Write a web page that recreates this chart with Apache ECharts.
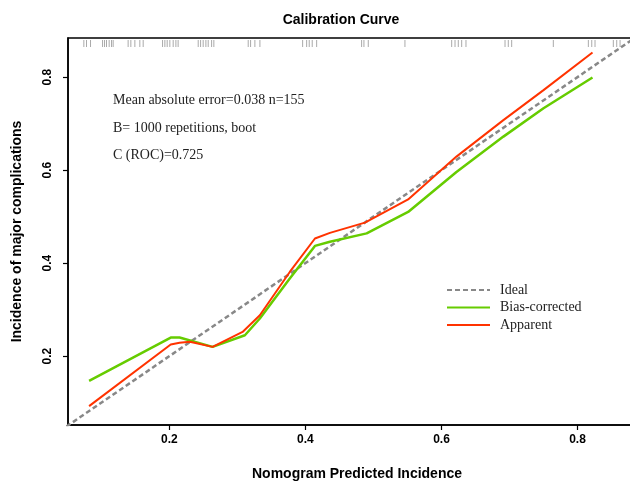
<!DOCTYPE html>
<html>
  <head>
    <meta charset="utf-8">
    <title>Calibration Curve</title>
    <script src="https://cdn.jsdelivr.net/npm/echarts@6/dist/echarts.min.js"></script>
  </head>
  <body style="margin:0">
      <div id="main" style="width:630px; height:481px;"></div>
      <script>
          // data
          var tickValues = [0.2, 0.4, 0.6, 0.8]
          var ideal = [[0, 0], [1, 1]]
          var biasCorrected = [
              [0.082, 0.147], [0.202, 0.240], [0.215, 0.240], [0.2635, 0.220],
              [0.311, 0.245], [0.333, 0.281], [0.377, 0.367], [0.414, 0.437],
              [0.436, 0.446], [0.490, 0.464], [0.551, 0.510], [0.622, 0.596],
              [0.691, 0.672], [0.750, 0.733], [0.822, 0.799]
          ]
          var apparent = [
              [0.082, 0.0925], [0.202, 0.225], [0.215, 0.229], [0.230, 0.231],
              [0.2635, 0.220], [0.3076, 0.252], [0.333, 0.288], [0.377, 0.381],
              [0.414, 0.453], [0.436, 0.465], [0.4875, 0.487], [0.551, 0.537],
              [0.622, 0.629], [0.691, 0.7075], [0.750, 0.772], [0.822, 0.853]
          ]
          var rug = [
              0.0743, 0.0782, 0.0841, 0.1018, 0.1047, 0.1076, 0.1115, 0.115, 0.1174,
              0.1394, 0.1434, 0.1493, 0.1566, 0.1615, 0.19, 0.1934, 0.1968, 0.2007,
              0.2056, 0.2096, 0.2129, 0.2424, 0.2459, 0.2497, 0.2537, 0.2571, 0.2621,
              0.2654, 0.3159, 0.3194, 0.3257, 0.3331, 0.3959, 0.4018, 0.4056, 0.41,
              0.4165, 0.4826, 0.486, 0.4924, 0.5463, 0.615, 0.6199, 0.6247, 0.6297,
              0.636, 0.6934, 0.6982, 0.7032, 0.7644, 0.8159, 0.8209, 0.8257, 0.8526,
              0.8576, 0.8625
          ]
          var notes = ['Mean absolute error=0.038 n=155', 'B= 1000 repetitions, boot', 'C (ROC)=0.725']

          var xMin = 0.051, xMax = 0.883
          var yMin = 0.052, yMax = 0.884

          var myChart = echarts.init(document.querySelector('#main'))

          var serif = '"Liberation Serif", "Times New Roman", serif'
          var sans = '"Liberation Sans", Arial, sans-serif'

          var axisCommon = {
              type: 'value',
              splitLine: {show: false},
              axisLine: {show: true, onZero: false, lineStyle: {color: '#000', width: 1.5}},
              axisTick: {show: true, length: 5, lineStyle: {color: '#000', width: 1.2}, customValues: tickValues},
              axisLabel: {
                  color: '#000', fontFamily: sans, fontWeight: 'bold', fontSize: 12,
                  customValues: tickValues,
                  formatter: function(v) { return v.toFixed(1) }
              },
              nameLocation: 'middle',
              nameTextStyle: {color: '#000', fontFamily: sans, fontWeight: 'bold', fontSize: 14}
          }

          var option = {
              animation: false,
              title: {
                  text: 'Calibration Curve',
                  left: 336, top: 8, textAlign: 'center',
                  textStyle: {fontFamily: sans, fontWeight: 'bold', fontSize: 14, color: '#000'}
              },
              grid: {
                  left: 68, top: 38, right: -4, bottom: 56,
                  outerBoundsMode: 'none', containLabel: false,
                  show: true, borderColor: '#000', borderWidth: 1.5, backgroundColor: '#fff'
              },
              legend: {
                  orient: 'vertical', left: 441, top: 278,
                  itemWidth: 43, itemHeight: 10, itemGap: 3.5,
                  itemStyle: {opacity: 0},
                  data: ['Ideal', 'Bias-corrected', 'Apparent'],
                  textStyle: {fontFamily: serif, fontSize: 14, color: '#222', padding: [0, 0, 0, 5]}
              },
              xAxis: Object.assign({}, axisCommon, {
                  min: xMin, max: xMax,
                  name: 'Nomogram Predicted Incidence', nameGap: 42,
                  nameTextStyle: Object.assign({}, axisCommon.nameTextStyle, {padding: [0, 0, 0, 12]}),
                  axisLabel: Object.assign({}, axisCommon.axisLabel, {margin: 9})
              }),
              yAxis: Object.assign({}, axisCommon, {
                  min: yMin, max: yMax,
                  name: 'Incidence of major complications', nameGap: 44,
                  axisLabel: Object.assign({}, axisCommon.axisLabel, {margin: 14, rotate: 90})
              }),
              graphic: notes.map(function(t, i) {
                  return {
                      type: 'text', left: 113, top: [93, 121, 148][i],
                      style: {text: t, font: '14px ' + serif, fill: '#222'}
                  }
              }),
              series: [
                  {
                      name: 'Ideal', type: 'line', data: ideal, symbol: 'none', clip: true,
                      lineStyle: {color: '#888', width: 2.5, type: [5, 3]},
                      itemStyle: {color: '#888'}, z: 3
                  },
                  {
                      name: 'Bias-corrected', type: 'line', data: biasCorrected, symbol: 'none',
                      lineStyle: {color: '#66CC00', width: 2.5},
                      itemStyle: {color: '#66CC00'}, z: 4
                  },
                  {
                      name: 'Apparent', type: 'line', data: apparent, symbol: 'none',
                      lineStyle: {color: '#FF3300', width: 2},
                      itemStyle: {color: '#FF3300'}, z: 5
                  },
                  {
                      name: 'rug', type: 'custom', silent: true,
                      data: rug.map(function(v) { return [v] }),
                      renderItem: function(params, api) {
                          var p = api.coord([api.value(0), yMax])
                          return {
                              type: 'line',
                              shape: {x1: p[0], y1: p[1] + 2, x2: p[0], y2: p[1] + 9},
                              style: {stroke: '#aaa', lineWidth: 1}
                          }
                      }
                  }
              ]
          }

          myChart.setOption(option)
      </script>
  </body>
</html>
